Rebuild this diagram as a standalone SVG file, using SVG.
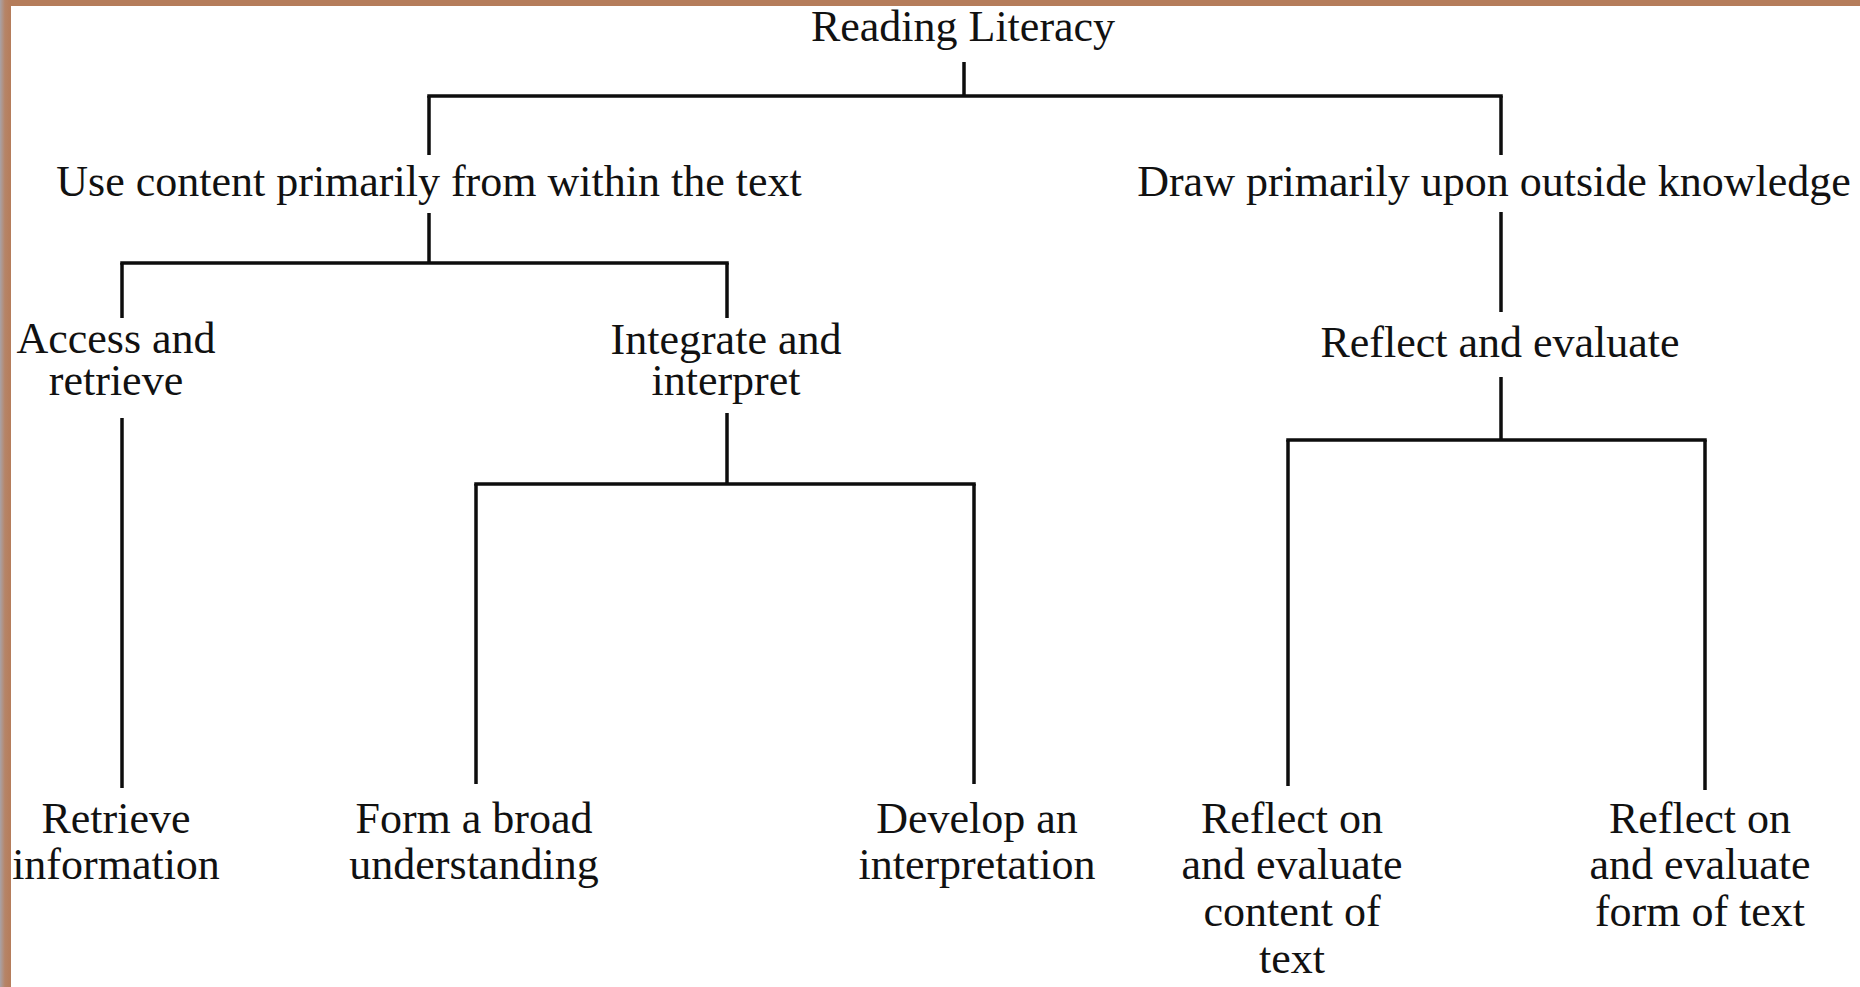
<svg xmlns="http://www.w3.org/2000/svg" width="1860" height="987" viewBox="0 0 1860 987">
<style>
.t{font-family:"Liberation Serif","Times New Roman",serif;font-size:44px;fill:#111;text-anchor:middle}
.c line{stroke:#0d0d0d;stroke-width:3.5;stroke-linecap:butt}
</style>
<defs>
<linearGradient id="lb" x1="0" y1="0" x2="1" y2="0">
<stop offset="0" stop-color="#a9a2a6"/>
<stop offset="0.45" stop-color="#b68467"/>
<stop offset="1" stop-color="#b57c5a"/>
</linearGradient>
</defs>
<rect x="0" y="0" width="1860" height="987" fill="#ffffff"/>
<rect x="0" y="0" width="1860" height="6" fill="#b57d5b"/>
<rect x="0" y="0" width="11" height="987" fill="url(#lb)"/>
<g class="c" id="connectors">
<line x1="964" y1="62" x2="964" y2="96"/>
<line x1="427.25" y1="96" x2="1502.75" y2="96"/>
<line x1="429" y1="96" x2="429" y2="155"/>
<line x1="429" y1="213" x2="429" y2="263"/>
<line x1="120.25" y1="263" x2="728.75" y2="263"/>
<line x1="122" y1="263" x2="122" y2="318"/>
<line x1="122" y1="418" x2="122" y2="788"/>
<line x1="727" y1="263" x2="727" y2="318"/>
<line x1="727" y1="413" x2="727" y2="484"/>
<line x1="474.25" y1="484" x2="975.75" y2="484"/>
<line x1="476" y1="484" x2="476" y2="784"/>
<line x1="974" y1="484" x2="974" y2="784"/>
<line x1="1501" y1="96" x2="1501" y2="155"/>
<line x1="1501" y1="212" x2="1501" y2="312"/>
<line x1="1501" y1="377" x2="1501" y2="440"/>
<line x1="1286.25" y1="440" x2="1706.75" y2="440"/>
<line x1="1288" y1="440" x2="1288" y2="786"/>
<line x1="1705" y1="440" x2="1705" y2="790"/>
</g>
<g id="root"><text class="t" x="963" y="41">Reading Literacy</text></g>
<g id="use-content"><text class="t" x="429" y="196">Use content primarily from within the text</text></g>
<g id="draw-outside"><text class="t" x="1494" y="196">Draw primarily upon outside knowledge</text></g>
<g id="access"><text class="t" x="116" y="353">Access and</text><text class="t" x="116" y="395">retrieve</text></g>
<g id="integrate"><text class="t" x="726" y="354">Integrate and</text><text class="t" x="726" y="395">interpret</text></g>
<g id="reflect-evaluate"><text class="t" x="1500" y="357">Reflect and evaluate</text></g>
<g id="retrieve-info"><text class="t" x="116" y="833">Retrieve</text><text class="t" x="116" y="879">information</text></g>
<g id="broad"><text class="t" x="474" y="833">Form a broad</text><text class="t" x="474" y="879">understanding</text></g>
<g id="develop"><text class="t" x="977" y="833">Develop an</text><text class="t" x="977" y="879">interpretation</text></g>
<g id="reflect-content"><text class="t" x="1292" y="833">Reflect on</text><text class="t" x="1292" y="879">and evaluate</text><text class="t" x="1292" y="926">content of</text><text class="t" x="1292" y="973">text</text></g>
<g id="reflect-form"><text class="t" x="1700" y="833">Reflect on</text><text class="t" x="1700" y="879">and evaluate</text><text class="t" x="1700" y="926">form of text</text></g>
</svg>
